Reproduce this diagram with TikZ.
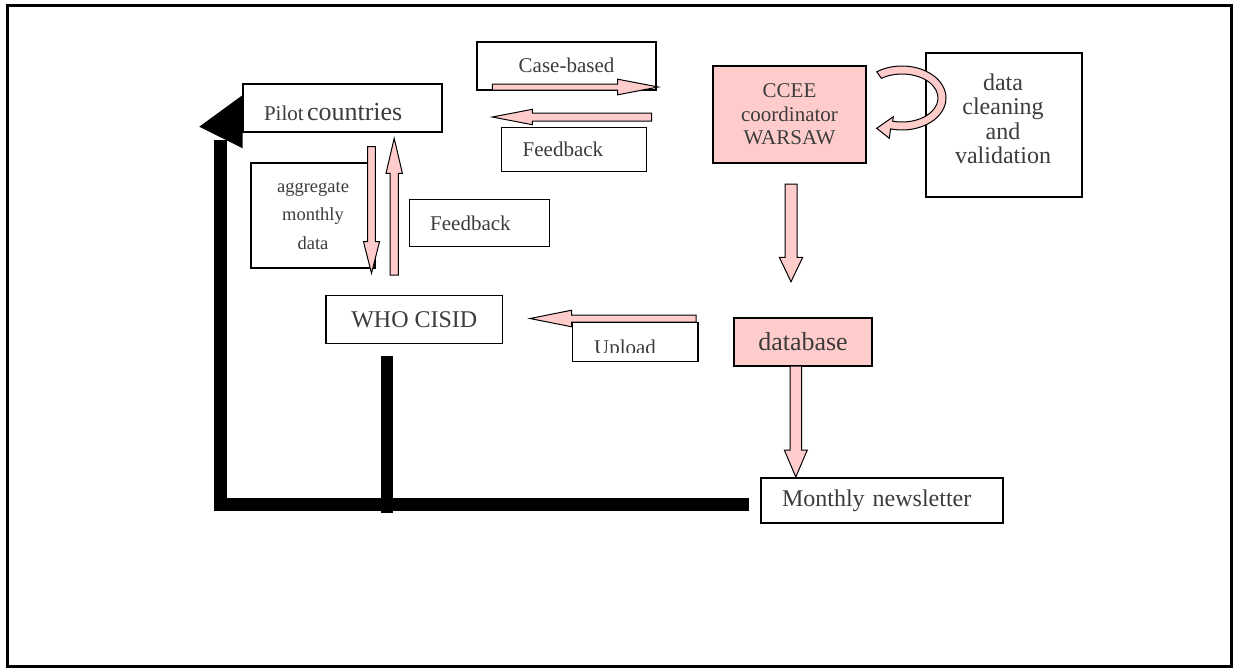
\documentclass[tikz,border=0pt]{standalone}
\usepackage{fontspec}
\setmainfont{Liberation Serif}
\usepackage{tikz}
\usetikzlibrary{calc}
\definecolor{boxpink}{RGB}{255,204,204}
\definecolor{textgray}{RGB}{60,60,60}
\newcommand\setfs[2]{\fontsize{#1}{#2}\selectfont}
\def\fatarrow[#1](#2)(#3)(#4:#5:#6){%
	\coordinate (headbase) at ($(#3)!#6pt!(#2)$);
	\draw[#1] ($(#2)!#4pt!90:(#3)$) -- ($(headbase)!#4pt!-90:(#2)$) -- ($(headbase)!#5pt!-90:(#2)$) -- (#3) -- ($(headbase)!#5pt!90:(#2)$) -- ($(headbase)!#4pt!90:(#2)$) -- ($(#2)!#4pt!-90:(#3)$) -- cycle;}
\tikzset{
	box/.style={draw, line width=1.2pt, fill=white, inner sep=0pt, text=textgray},
	pinkbox/.style={box, fill=boxpink},
	leftbox/.style={box, align=left, inner xsep=21pt},
	boxtext/.style={text=textgray, inner sep=0pt},
	fatpink/.style={draw, line width=1pt, fill=boxpink, line join=miter},
	feedline/.style={line width=12.4pt, line join=miter},
}

\begin{document}
\begin{tikzpicture}[x=1pt, y=-1pt]
			%%%%% START %%%%%
			
			\useasboundingbox (0, 0) rectangle (1233, 670);
			\draw[line width=3pt] (7, 5) rectangle (1231, 666);
			
			\node[leftbox, text width=157pt, minimum height=48pt] (pilot) at (342.5, 108) {\raisebox{-4pt}[\height][\depth]{\setfs{21}{24}Pilot \setfs{26}{28}countries}};
			\node[box, minimum width=179pt, minimum height=48pt, font=\setfs{21}{24}] (cb) at (566.5, 66) {\raisebox{1pt}[\height][\depth]{Case-based}};
			\node[leftbox, text width=103pt, minimum height=44pt, font=\setfs{21}{24}] (fbtop) at (574.2, 149.7) {Feedback};
			\node[box, minimum width=124pt, minimum height=105pt, align=center, font=\setfs{18.5}{28.5}] (agg) at (313, 215.5) {aggregate\\monthly\\data};
			\node[leftbox, text width=98pt, minimum height=47pt, font=\setfs{21}{24}] (fbmid) at (479.2, 223) {Feedback};
			\node[box, minimum width=176.7pt, minimum height=47.6pt, font=\setfs{24}{27}] (who) at (414.3, 319.5) {WHO CISID};
			
			\node[pinkbox, minimum width=153pt, minimum height=97pt, align=center, font=\setfs{21}{23.5}] (ccee) at (789.5, 114.5) {CCEE\\coordinator\\WARSAW};
			\node[box, minimum width=156pt, minimum height=144pt] (dcv) at (1004, 125) {};
			\node[boxtext, align=center, font=\setfs{24}{24.5}] (dcvtext) at ([shift={(-1, -6)}]dcv.center) {data\\cleaning\\and\\validation};
			\node[pinkbox, minimum width=138pt, minimum height=48pt, font=\setfs{26}{28}] (db) at (803, 342) {database};
			\node[leftbox, text width=200pt, minimum height=45pt, font=\setfs{24}{27}] (news) at (882, 500.5) {Monthly newsletter};
			
			% black return line
			\coordinate (newsleft) at (749, 504.5);
			\coordinate (lowleft) at (220.5, 504.5);
			\coordinate (upleft) at (220.5, 140);
			\draw[feedline] (newsleft) -- (lowleft) -- (upleft);
			\fill (199.3, 126.7) -- (242.7, 95) -- (242.7, 148.3) -- cycle;
			\coordinate (whostem) at (387, 356);
			\draw[line width=12.6pt] (whostem) -- (387, 512.7);
			
			% pink arrows
			\coordinate (cbtail) at (492.3, 87);
			\coordinate (cbtip) at (658.3, 87);
			\fatarrow[fatpink](cbtail)(cbtip)(3:7.8:40.6)
			\coordinate (fbtail) at (651.7, 117);
			\coordinate (fbtip) at (492.3, 117);
			\fatarrow[fatpink](fbtail)(fbtip)(4:7.7:40)
			\coordinate (aggtail) at (371.5, 146.7);
			\coordinate (aggtip) at (371.5, 273.3);
			\fatarrow[fatpink](aggtail)(aggtip)(3.8:8:31.6)
			\coordinate (uptail) at (394.2, 275);
			\coordinate (uptip) at (394.2, 138.3);
			\fatarrow[fatpink](uptail)(uptip)(4.2:8.2:35)
			\coordinate (cceeout) at (791, 184);
			\coordinate (dbin) at (791, 281.7);
			\fatarrow[fatpink](cceeout)(dbin)(6:11.7:24.4)
			\coordinate (dbout) at (795.8, 366);
			\coordinate (newsin) at (795.8, 477);
			\fatarrow[fatpink](dbout)(newsin)(5.8:11.5:27)
			\coordinate (uploadtail) at (696, 318.5);
			\coordinate (uploadtip) at (530, 318.5);
			\fatarrow[fatpink](uploadtail)(uploadtip)(3.5:8.3:41.7)
			
			% loop arrow
			\coordinate (loopc) at (902, 98);
			\draw[fatpink] ($(loopc)+(125:44pt and 32pt)$) arc[start angle=125, end angle=-105, x radius=44pt, y radius=32pt]
				-- (889.3, 138.3) -- (876.7, 128.3) -- (893.3, 116.7) -- ($(loopc)+(-105:36pt and 24pt)$)
				arc[start angle=-105, end angle=125, x radius=36pt, y radius=24pt] -- cycle;
			
			% upload box over its arrow
			\node[box, minimum width=125.3pt, minimum height=39pt] (upbox) at (635.3, 342.2) {};
			\begin{scope}
				\clip (upbox.north west) rectangle ([shift={(0, -10)}]upbox.south east);
				\node[boxtext, anchor=base, font=\setfs{21}{24}] (uptext) at (625, 354.5) {Upload};
			\end{scope}
			
			%%%%% END %%%%%
\end{tikzpicture}
\end{document}
